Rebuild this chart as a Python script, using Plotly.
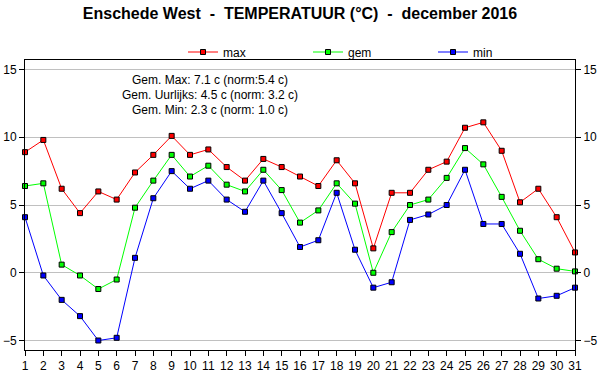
import plotly.graph_objects as go

days = list(range(1, 32))
t_max = [8.9, 9.8, 6.2, 4.4, 6.0, 5.4, 7.4, 8.7, 10.1, 8.7,
         9.1, 7.8, 6.8, 8.4, 7.8, 7.1, 6.4, 8.3, 6.6, 1.8,
         5.9, 5.9, 7.6, 8.2, 10.7, 11.1, 9.0, 5.2, 6.2, 4.1, 1.5]
t_gem = [6.4, 6.6, 0.6, -0.2, -1.2, -0.5, 4.8, 6.8, 8.7, 7.1,
         7.9, 6.5, 6.0, 7.6, 6.1, 3.7, 4.6, 6.6, 5.1, 0.0,
         3.0, 5.0, 5.4, 7.0, 9.2, 8.0, 5.6, 3.1, 1.0, 0.3, 0.1]
t_min = [4.1, -0.2, -2.0, -3.2, -5.0, -4.8, 1.1, 5.5, 7.5, 6.2,
         6.8, 5.4, 4.5, 6.8, 4.4, 1.9, 2.4, 5.9, 1.7, -1.1,
         -0.7, 3.9, 4.3, 5.0, 7.6, 3.6, 3.6, 1.4, -1.9, -1.7, -1.1]
y_ticks = [-5, 0, 5, 10, 15]
summary = ["Gem. Max: 7.1 c (norm:5.4 c)",
           "Gem. Uurlijks: 4.5 c (norm: 3.2 c)",
           "Gem. Min: 2.3 c (norm: 1.0 c)"]
title = "Enschede West  -  TEMPERATUUR (°C)  -  december 2016"

FONT = "Liberation Sans, Arial, sans-serif"
series = [("max", t_max, "#ff0000"), ("gem", t_gem, "#00ff00"), ("min", t_min, "#0000ff")]

fig = go.Figure()
for name, vals, col in series:
    fig.add_trace(go.Scatter(
        x=days, y=vals, name=name, mode="lines+markers",
        line=dict(color=col, width=1),
        marker=dict(symbol="square", size=5, color=col, line=dict(color="black", width=1)),
        cliponaxis=False,
    ))
# invisible trace for right axis
fig.add_trace(go.Scatter(x=[days[0]], y=[t_max[0]], yaxis="y2", showlegend=False,
                         mode="markers", marker=dict(opacity=0), hoverinfo="skip"))

fig.update_layout(
    width=600, height=390,
    margin=dict(l=25, r=25, t=60, b=40, autoexpand=False),
    paper_bgcolor="white", plot_bgcolor="white",
    font=dict(family=FONT, size=12, color="black"),
    title=dict(text="<b>" + title + "</b>", x=0.5, xanchor="center",
               y=1 - 13.5 / 390, yanchor="middle",
               font=dict(family=FONT, size=16, color="black")),
    showlegend=True,
    legend=dict(orientation="h", x=(183 - 25) / 550, xanchor="left", y=1 + 8 / 290, yanchor="middle",
                font=dict(size=12), entrywidth=80, entrywidthmode="pixels", itemwidth=30,
                bgcolor="rgba(0,0,0,0)"),
    xaxis=dict(range=[1, 31], tickmode="array", tickvals=days, ticktext=[str(d) for d in days],
               ticks="outside", ticklen=5, tickcolor="black", showline=True, linecolor="black",
               linewidth=1, mirror=True, showgrid=False, zeroline=False, automargin=False,
               tickfont=dict(size=12)),
    yaxis=dict(range=[-5.7, 15.7], tickvals=y_ticks, ticks="outside", ticklen=5, tickcolor="black",
               showline=True, linecolor="black", linewidth=1, showgrid=True, gridcolor="#c0c0c0",
               zeroline=False, automargin=False, tickfont=dict(size=12)),
    yaxis2=dict(range=[-5.7, 15.7], tickvals=y_ticks, overlaying="y", side="right",
                ticks="outside", ticklen=5, tickcolor="black", showline=True, linecolor="black",
                linewidth=1, showgrid=False, zeroline=False, automargin=False,
                tickfont=dict(size=12)),
)

for i, line in enumerate(summary):
    fig.add_annotation(text=line, xref="paper", yref="paper",
                       x=(210 - 25) / 550, y=1 - (80 + 15 * i - 60) / 290,
                       xanchor="center", yanchor="middle",
                       showarrow=False, font=dict(size=12, color="black"))

fig.write_html("out.html", config={"displayModeBar": False},
               post_script="document.body.style.margin='0';document.body.style.overflow='hidden';")
